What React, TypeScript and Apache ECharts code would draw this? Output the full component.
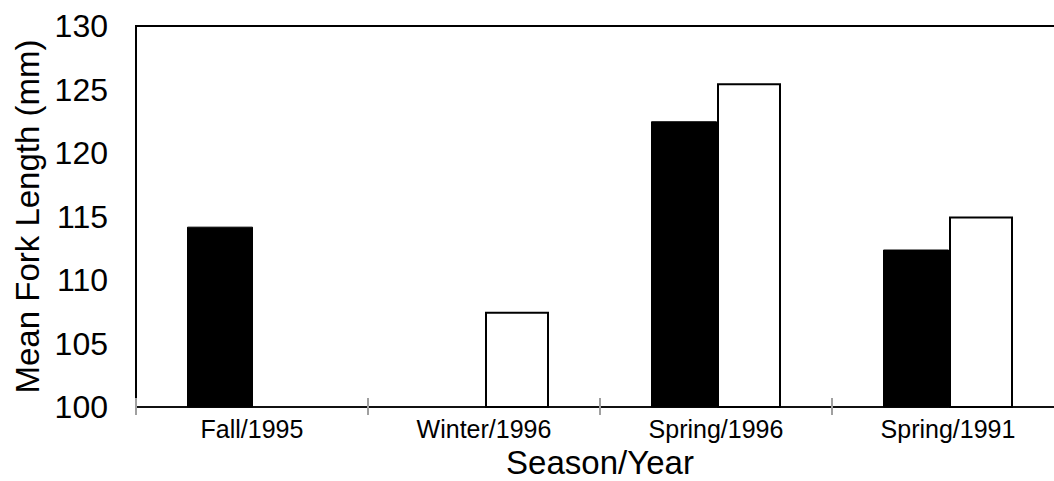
import React, { useEffect, useRef } from "react";
import * as echarts from "echarts";

const categories = ["Fall/1995", "Winter/1996", "Spring/1996", "Spring/1991"];
const blackSeries = [114.2, null, 122.5, 112.4];
const whiteSeries = [null, 107.5, 125.5, 115.0];
const yMin = 100;
const yMax = 130;
const yStep = 5;

const FONT = 'Arial, "Liberation Sans", sans-serif';

export default function App() {
  const ref = useRef<HTMLDivElement>(null);
  useEffect(() => {
    if (!ref.current) return;
    const chart = echarts.init(ref.current, undefined, { renderer: "svg" });
    chart.setOption({
      animation: false,
      backgroundColor: "#ffffff",
      grid: {
        left: 136,
        top: 26,
        right: 10,
        bottom: 74,
        containLabel: false,
        outerBoundsMode: "none",
        show: true,
        borderColor: "#000",
        borderWidth: 2,
        backgroundColor: "transparent",
      },
      xAxis: [
        {
          type: "category",
          data: categories,
          position: "bottom",
          name: "Season/Year",
          nameLocation: "middle",
          nameGap: 38,
          nameTextStyle: { fontFamily: FONT, fontSize: 33, color: "#000" },
          axisLine: { show: true, lineStyle: { color: "#111", width: 2 } },
          axisTick: { show: true, inside: false, length: 8, lineStyle: { color: "#a0a0a0", width: 2 } },
          axisLabel: { fontFamily: FONT, fontSize: 25, color: "#000", margin: 9 },
          splitLine: { show: false },
        },
        {
          type: "category",
          data: categories,
          position: "bottom",
          axisLine: { show: false },
          axisTick: { show: true, inside: true, length: 9, lineStyle: { color: "#a0a0a0", width: 2 } },
          axisLabel: { show: false },
          splitLine: { show: false },
        },
      ],
      yAxis: {
        type: "value",
        min: yMin,
        max: yMax,
        interval: yStep,
        name: "Mean Fork Length (mm)",
        nameLocation: "middle",
        nameRotate: 90,
        nameGap: 91,
        nameTextStyle: { fontFamily: FONT, fontSize: 33, color: "#000" },
        axisLine: { show: true, lineStyle: { color: "#000", width: 2 } },
        axisTick: { show: false },
        axisLabel: { fontFamily: FONT, fontSize: 32, color: "#000", margin: 28 },
        splitLine: { show: false },
      },
      series: [
        {
          type: "bar",
          data: blackSeries,
          barWidth: 66,
          barGap: "0%",
          itemStyle: { color: "#000", borderColor: "#000", borderWidth: 1 },
        },
        {
          type: "bar",
          data: whiteSeries,
          barWidth: 64,
          barGap: "0%",
          itemStyle: { color: "#fff", borderColor: "#000", borderWidth: 2 },
        },
      ],
    });
    return () => chart.dispose();
  }, []);
  return (
    <div
      style={{
        position: "absolute",
        left: 0,
        top: 0,
        width: 1054,
        height: 481,
        overflow: "hidden",
        background: "#fff",
      }}
    >
      <div ref={ref} style={{ width: 1074, height: 481 }} />
    </div>
  );
}
